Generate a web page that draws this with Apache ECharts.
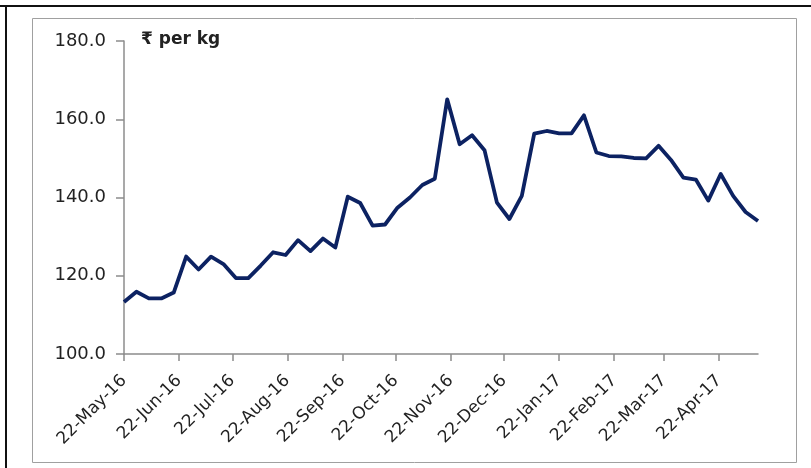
<!DOCTYPE html>
<html>
<head>
<meta charset="utf-8">
<script src="https://cdn.jsdelivr.net/npm/echarts@6/dist/echarts.min.js"></script>
<style>
  html, body { margin: 0; padding: 0; background: #fff; }
  #chart { width: 811px; height: 468px; }
</style>
</head>
<body>
<div id="chart"></div>
<script>
// weekly observation dates
const weekDates = [
  '2016-05-22', '2016-05-29', '2016-06-05', '2016-06-12', '2016-06-19', '2016-06-26',
  '2016-07-03', '2016-07-10', '2016-07-17', '2016-07-24', '2016-07-31',
  '2016-08-07', '2016-08-14', '2016-08-21', '2016-08-28',
  '2016-09-04', '2016-09-11', '2016-09-18', '2016-09-25',
  '2016-10-02', '2016-10-09', '2016-10-16', '2016-10-23', '2016-10-30',
  '2016-11-06', '2016-11-13', '2016-11-20', '2016-11-27',
  '2016-12-04', '2016-12-11', '2016-12-18', '2016-12-25',
  '2017-01-01', '2017-01-08', '2017-01-15', '2017-01-22', '2017-01-29',
  '2017-02-05', '2017-02-12', '2017-02-19', '2017-02-26',
  '2017-03-05', '2017-03-12', '2017-03-19', '2017-03-26',
  '2017-04-02', '2017-04-09', '2017-04-16', '2017-04-23', '2017-04-30',
  '2017-05-07', '2017-05-14'
];

// price, rupees per kg
const prices = [
  113.3, 115.9, 114.2, 114.2, 115.7, 124.9, 121.6, 124.9, 123.0, 119.4, 119.4,
  122.6, 126.0, 125.3, 129.1, 126.3, 129.5, 127.2, 140.2, 138.6,
  132.8, 133.1, 137.4, 140.0, 143.2, 144.8, 165.1, 153.6, 155.9, 152.1,
  138.7, 134.5, 140.4, 156.3, 157.0, 156.4, 156.4, 161.0, 151.5, 150.6,
  150.5, 150.1, 150.0, 153.2, 149.6, 145.1, 144.6, 139.2, 146.0, 140.4,
  136.3, 134.0
];

// monthly ticks on the date axis
const tickDates = [
  '2016-05-22', '2016-06-22', '2016-07-22', '2016-08-22', '2016-09-22', '2016-10-22',
  '2016-11-22', '2016-12-22', '2017-01-22', '2017-02-22', '2017-03-22', '2017-04-22'
];
const tickLabels = [
  '22-May-16', '22-Jun-16', '22-Jul-16', '22-Aug-16', '22-Sep-16', '22-Oct-16',
  '22-Nov-16', '22-Dec-16', '22-Jan-17', '22-Feb-17', '22-Mar-17', '22-Apr-17'
];

const yTicks = [100, 120, 140, 160, 180];

const FONT = '"DejaVu Sans", "Noto Sans", sans-serif';
const AXIS_GREY = '#8c8c8c';
const toTime = (s) => echarts.number.parseDate(s).getTime();
const tickTimes = tickDates.map(toTime);

const chart = echarts.init(document.getElementById('chart'), null, { renderer: 'canvas' });

chart.setOption({
  animation: false,
  backgroundColor: '#fff',
  grid: { left: 124, right: 53, top: 41, bottom: 114, containLabel: false },
  graphic: [
    // outer dark frame (top + left) and the light inner box
    { type: 'rect', shape: { x: 0, y: 5, width: 811, height: 2 }, style: { fill: '#111' }, silent: true },
    { type: 'rect', shape: { x: 5, y: 5, width: 2, height: 463 }, style: { fill: '#111' }, silent: true },
    { type: 'rect', shape: { x: 32.5, y: 18.5, width: 764, height: 444 }, style: { fill: 'none', stroke: '#a0a0a0', lineWidth: 1 }, silent: true },
    { type: 'text', left: 141, top: 31, style: { text: '₹ per kg', fontFamily: FONT, fontSize: 17, fontWeight: 'bold', fill: '#222' } }
  ],
  xAxis: {
    // dates as millisecond values on a plain value scale
    type: 'value',
    min: toTime(weekDates[0]),
    max: toTime(weekDates[weekDates.length - 1]),
    splitLine: { show: false },
    axisLine: { lineStyle: { color: AXIS_GREY, width: 1.5 } },
    axisTick: {
      show: true, length: 7, inside: false,
      customValues: tickTimes,
      lineStyle: { color: AXIS_GREY, width: 1.5 }
    },
    axisLabel: {
      customValues: tickTimes,
      rotate: 45,
      margin: 24,
      fontFamily: FONT,
      fontSize: 17,
      color: '#222',
      formatter: (v) => {
        const i = tickTimes.indexOf(v);
        return i >= 0 ? tickLabels[i] : '';
      }
    }
  },
  yAxis: {
    type: 'value',
    min: yTicks[0],
    max: yTicks[yTicks.length - 1],
    interval: 20,
    splitLine: { show: false },
    axisLine: { show: true, lineStyle: { color: AXIS_GREY, width: 1.5 } },
    axisTick: { show: true, length: 8, lineStyle: { color: AXIS_GREY, width: 1.5 } },
    axisLabel: {
      margin: 18,
      fontFamily: FONT,
      fontSize: 18,
      color: '#222',
      formatter: (v) => v.toFixed(1)
    }
  },
  series: [{
    type: 'line',
    data: weekDates.map((d, i) => [toTime(d), prices[i]]),
    showSymbol: false,
    symbol: 'none',
    lineStyle: { color: '#0c2262', width: 3.8, join: 'round' },
    itemStyle: { color: '#0c2262' }
  }]
});
</script>
</body>
</html>
